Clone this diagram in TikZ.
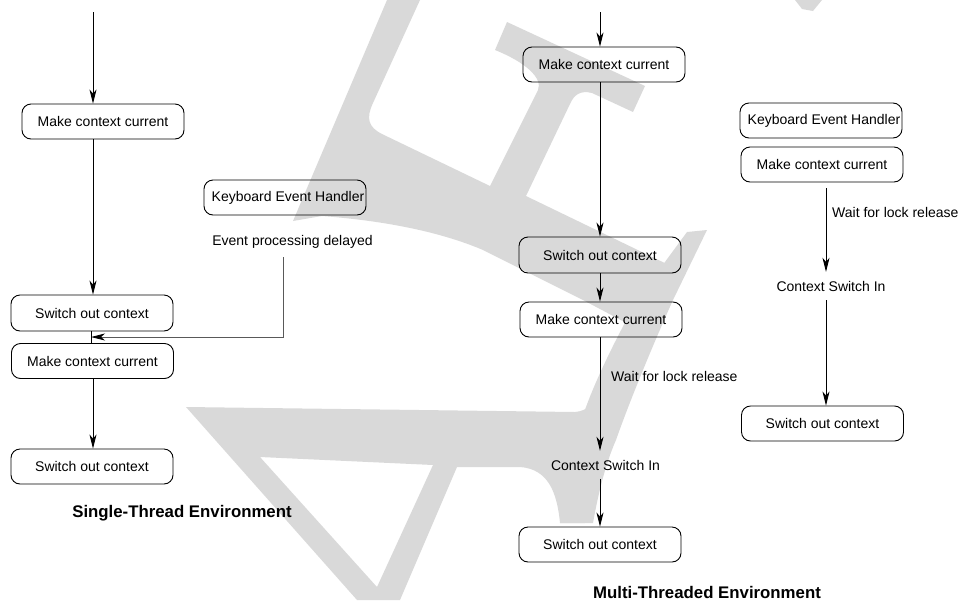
\documentclass[tikz,border=0pt]{standalone}
\usepackage{fontspec}
\setmainfont{Liberation Sans}
\usetikzlibrary{arrows.meta}
\begin{document}
\begin{tikzpicture}[x=1pt,y=-1pt,
  font=\fontsize{14}{16}\selectfont,
  box/.style={draw, line width=0.9pt, rounded corners=9pt, minimum width=162pt, minimum height=35pt, inner sep=0pt},
  lbl/.style={inner sep=0pt, text height=10pt, text depth=0pt, minimum height=28pt},
  ttl/.style={font=\fontsize{16.8}{19}\selectfont\bfseries, inner sep=0pt},
  arr/.style={line width=0.9pt, -{Stealth[length=14pt,width=7pt,inset=4pt]}},
  garr/.style={line width=0.9pt, black!65, -{Stealth[length=14pt,width=7pt,inset=4pt,color=black]}},
  ln/.style={line width=0.9pt},
  wm/.style={fill=black!15}
]
\useasboundingbox (0,0) rectangle (966,600);
% watermark
\fill[wm] (387,0) -- (420,0) -- (373,103) .. controls (366,118) and (368,127) .. (382,134) -- (490,186) -- (538,90) .. controls (543,78) and (525,62) .. (495,50) -- (507,22) -- (645,86) -- (633,112) -- (592,93) .. controls (580,90) and (574,95) .. (570,104) -- (526,196) -- (675,268) -- (632,326) -- (583,300) -- (483,250) .. controls (450,236) and (400,222) .. (322,216) -- (293,221) -- cycle;
\fill[wm] (687,232) -- (637,300) .. controls (610,350) and (585,400) .. (576,440) .. controls (570,470) and (563,500) .. (560,523) -- (593,523) .. controls (598,495) and (605,465) .. (616,440) .. controls (630,400) and (655,340) .. (673,300) -- (707,230) -- cycle;
\fill[wm, even odd rule] (186,407) -- (575,412) .. controls (588,411) and (595,402) .. (598,392) -- (612,400) -- (585,523) -- (560,523) .. controls (557,492) and (548,469) .. (520,467) -- (457,467) -- (400,600) -- (357,600) -- cycle (260,457) -- (433,465) -- (377,587) -- cycle;
\fill[wm] (795,0) -- (822,0) -- (813,11) -- (802,9) -- cycle;

% left column
\coordinate (ls) at (93,12);
\coordinate (lj) at (91,337);
\coordinate (ev) at (283,257);
\node[box] (L1) at (103,121.5) {Make context current};
\node[box, minimum height=36pt] (L2) at (92,313) {Switch out context};
\node[box] (L3) at (92.5,361) {Make context current};
\node[box] (L4) at (92,466.5) {Switch out context};
\node[box] (LK) at (285,197.5) {\hspace*{6pt}Keyboard Event Handler};
\node[lbl] (EPD) at (292.5,240) {Event processing delayed};
\node[ttl] (T1) at (182,513) {Single-Thread Environment};
\draw[arr] (ls) -- (ls |- L1.north);
\draw[arr] (ls |- L1.south) -- (ls |- L2.north);
\draw[ln] (lj |- L2.south) -- (lj |- L3.north);
\draw[garr] (ev) |- (lj);
\draw[arr] (ls |- L3.south) -- (ls |- L4.north);

% middle column
\coordinate (ms) at (600,12);
\node[box] (M1) at (604,64.5) {Make context current};
\node[box, minimum height=36pt] (M2) at (600,255) {Switch out context};
\node[box] (M3) at (601,319.5) {Make context current};
\node[lbl, anchor=west] (MW) at (611,376) {Wait for lock release};
\node[lbl] (MCSI) at (605.5,465) {Context Switch In};
\node[box] (M4) at (600,544.5) {Switch out context};
\node[ttl] (T2) at (707,592) {Multi-Threaded Environment};
\draw[arr] (ms) -- (ms |- M1.north);
\draw[arr] (ms |- M1.south) -- (ms |- M2.north);
\draw[arr] (ms |- M2.south) -- (ms |- M3.north);
\draw[arr] (ms |- M3.south) -- (ms |- MCSI.north);
\draw[arr] (ms |- MCSI.south) -- (ms |- M4.north);

% right column
\coordinate (rs) at (826,0);
\node[box] (R1) at (821,120.5) {\hspace*{6pt}Keyboard Event Handler};
\node[box] (R2) at (822,164.5) {Make context current};
\node[lbl, anchor=west] (RW) at (832,212) {Wait for lock release};
\node[lbl] (RCSI) at (831,286) {Context Switch In};
\node[box] (R3) at (822.5,423.5) {Switch out context};
\draw[arr, shorten <=6pt] (rs |- R2.south) -- (rs |- RCSI.north);
\draw[arr] (rs |- RCSI.south) -- (rs |- R3.north);
\end{tikzpicture}
\end{document}
